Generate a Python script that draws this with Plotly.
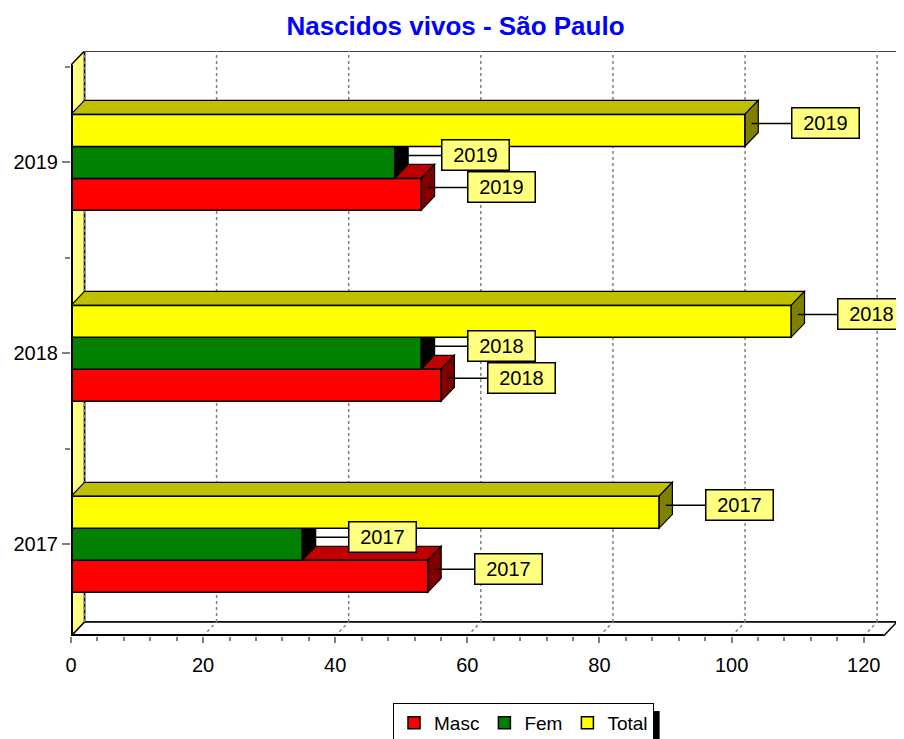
import plotly.graph_objects as go

# ---- data ----
categories = ["2017", "2018", "2019"]
masc = [54, 56, 53]
fem = [35, 53, 49]
total = [89, 109, 102]

series_names = ["Masc", "Fem", "Total"]
series_values = [masc, fem, total]
front_colors = ["#FF0000", "#008000", "#FFFF00"]
top_colors = ["#C00000", "#006000", "#C0C000"]
side_colors = ["#800000", "#000000", "#808000"]

# ---- geometry (axis units) ----
FONT = "Arial, Liberation Sans, sans-serif"
X_FRONT_MAX = 123.0
DX = 2.04          # depth offset on x (units)
DY = 0.0733        # depth offset on y (units)
Y_LO, Y_HI = -0.48, 2.51
BAR_W = 0.1675
offsets = [-BAR_W, 0.0, BAR_W]   # Masc, Fem, Total

# page body has an 8px margin: figure is laid out in page pixels minus 8
OFF = 8
W, H = 904 - OFF, 739 - OFF
L, T, R, B = 71 - OFF, 51 - OFF, 6.5, 103
PW, PH = W - L - R, H - T - B

cat_pos = list(range(len(categories)))

fig = go.Figure()

shapes = []
# back wall
shapes.append(dict(type="rect", xref="x", yref="y", x0=DX, x1=X_FRONT_MAX + DX,
                   y0=Y_LO + DY, y1=Y_HI + DY, line=dict(color="black", width=1.5),
                   fillcolor="white", layer="below"))
# floor
shapes.append(dict(type="path", xref="x", yref="y",
                   path=f"M 0,{Y_LO} L {X_FRONT_MAX},{Y_LO} L {X_FRONT_MAX+DX},{Y_LO+DY} L {DX},{Y_LO+DY} Z",
                   line=dict(color="black", width=1.5), fillcolor="white", layer="below"))
# left wall
shapes.append(dict(type="path", xref="x", yref="y",
                   path=f"M 0,{Y_LO} L {DX},{Y_LO+DY} L {DX},{Y_HI+DY} L 0,{Y_HI} Z",
                   line=dict(color="black", width=1.5), fillcolor="#FFFF80", layer="below"))
# grid lines (back wall + floor)
for gx in range(0, 121, 20):
    shapes.append(dict(type="line", xref="x", yref="y", x0=gx + DX, x1=gx + DX,
                       y0=Y_LO + DY, y1=Y_HI + DY,
                       line=dict(color="#808080", width=1.5, dash="dot"), layer="below"))
    if gx > 0:
        shapes.append(dict(type="line", xref="x", yref="y", x0=gx, x1=gx + DX,
                           y0=Y_LO, y1=Y_LO + DY,
                           line=dict(color="#808080", width=1.5, dash="dot"), layer="below"))
# bar depth faces
for s, vals in enumerate(series_values):
    for c, v in zip(cat_pos, vals):
        yc = c + offsets[s]
        yb, yt = yc - BAR_W / 2, yc + BAR_W / 2
        shapes.append(dict(type="path", xref="x", yref="y",
                           path=f"M 0,{yt} L {v},{yt} L {v+DX},{yt+DY} L {DX},{yt+DY} Z",
                           line=dict(color="black", width=1.2), fillcolor=top_colors[s], layer="below"))
        shapes.append(dict(type="path", xref="x", yref="y",
                           path=f"M {v},{yb} L {v},{yt} L {v+DX},{yt+DY} L {v+DX},{yb+DY} Z",
                           line=dict(color="black", width=1.2), fillcolor=side_colors[s], layer="below"))
# front axis lines
shapes.append(dict(type="line", xref="x", yref="y", x0=0, x1=X_FRONT_MAX, y0=Y_LO, y1=Y_LO,
                   line=dict(color="black", width=4), layer="above"))
shapes.append(dict(type="line", xref="x", yref="y", x0=0, x1=0, y0=Y_LO, y1=Y_HI,
                   line=dict(color="black", width=4), layer="above"))
# legend shadow (page pixels -> paper coords)
def px_x(p):
    return (p - OFF - L) / PW
def px_y(p):
    return (H - B - (p - OFF)) / PH
shapes.append(dict(type="rect", xref="paper", yref="paper",
                   x0=px_x(401), x1=px_x(660), y0=px_y(745), y1=px_y(711),
                   fillcolor="black", line=dict(width=0), layer="above"))

for s, vals in enumerate(series_values):
    fig.add_trace(go.Bar(
        name=series_names[s],
        x=vals,
        y=[c + offsets[s] for c in cat_pos],
        orientation="h",
        width=BAR_W,
        marker=dict(color=front_colors[s], line=dict(color="black", width=1.5)),
        hoverinfo="x+name",
    ))

annotations = []
for s, vals in enumerate(series_values):
    for c, v in zip(cat_pos, vals):
        annotations.append(dict(
            x=v + DX / 2, y=c + offsets[s] + DY / 2, xref="x", yref="y",
            text=categories[c], showarrow=True, arrowhead=0, arrowwidth=1.5,
            arrowcolor="black", ax=74, ay=0, axref="pixel", ayref="pixel",
            font=dict(family=FONT, size=20, color="black"),
            bgcolor="#FFFF80", bordercolor="black", borderwidth=1.5, borderpad=2,
            width=62, height=25, align="center", standoff=0,
        ))

fig.update_layout(
    width=W, height=H,
    margin=dict(l=L, r=R, t=T, b=B, autoexpand=False),
    paper_bgcolor="white", plot_bgcolor="white",
    barmode="overlay",
    title=dict(text="<b>Nascidos vivos - São Paulo</b>", x=(455.5 - OFF) / W, xref="container",
               xanchor="center", y=1 - (26 - OFF) / H, yref="container", yanchor="middle",
               font=dict(family=FONT, size=26, color="#0000FF")),
    xaxis=dict(range=[0, X_FRONT_MAX + DX], tickvals=list(range(0, 121, 20)),
               ticks="outside", ticklen=6, tickcolor="#808080", tickwidth=1.5,
               ticklabelstandoff=5,
               minor=dict(tickvals=list(range(0, 121, 4)), ticks="outside", ticklen=4,
                          tickcolor="#808080", tickwidth=1.5),
               showgrid=False, zeroline=False, showline=False, fixedrange=True,
               automargin=False,
               tickfont=dict(family=FONT, size=20, color="black")),
    yaxis=dict(range=[Y_LO, Y_HI + DY], tickvals=cat_pos, ticktext=categories,
               ticks="outside", ticklen=8, tickcolor="#808080", tickwidth=1.5,
               minor=dict(tickvals=[-0.5, 0.5, 1.5, 2.5], ticks="outside", ticklen=5,
                          tickcolor="#808080", tickwidth=1.5),
               showgrid=False, zeroline=False, showline=False, fixedrange=True,
               automargin=False,
               tickfont=dict(family=FONT, size=20, color="black")),
    legend=dict(orientation="h", x=(393 - OFF) / W, xanchor="left", xref="container",
                y=1 - (703 - OFF) / H, yanchor="top", yref="container",
                bgcolor="white", bordercolor="black", borderwidth=1,
                font=dict(family=FONT, size=19, color="black"),
                itemwidth=30, traceorder="normal"),
    shapes=shapes,
    annotations=annotations,
    showlegend=True,
)

fig.write_html("out.html")
